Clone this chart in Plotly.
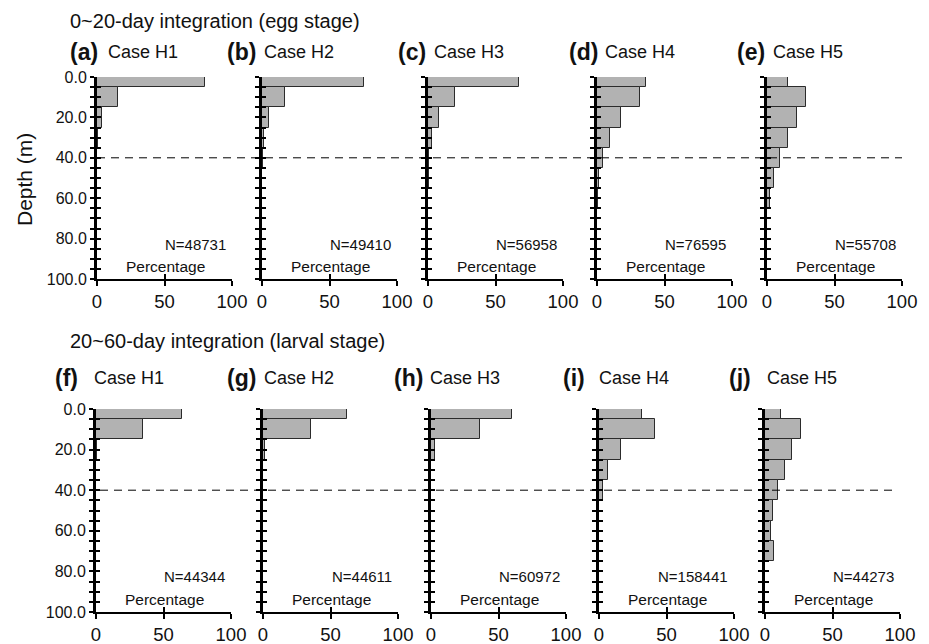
import plotly.graph_objects as go

# ---- data -------------------------------------------------------------
# depth bins (m), centred every 10 m; the first bin is cut at the surface
DEPTH_BINS = [0, 10, 20, 30, 40, 50, 60, 70, 80, 90]

CASES = ["Case H1", "Case H2", "Case H3", "Case H4", "Case H5"]
EGG_LETTERS = ["(a)", "(b)", "(c)", "(d)", "(e)"]
LARVA_LETTERS = ["(f)", "(g)", "(h)", "(i)", "(j)"]

EGG_N = ["N=48731", "N=49410", "N=56958", "N=76595", "N=55708"]
LARVA_N = ["N=44344", "N=44611", "N=60972", "N=158441", "N=44273"]

# percentage of particles per depth bin, 0-20 day integration (egg stage)
EGG_H1 = [79.7, 15.4, 3.9, 0.6, 0.2, 0.1, 0.0, 0.0, 0.0, 0.0]
EGG_H2 = [75.3, 16.8, 5.2, 1.8, 0.6, 0.2, 0.1, 0.0, 0.0, 0.0]
EGG_H3 = [67.2, 20.0, 8.0, 3.2, 1.0, 0.4, 0.2, 0.0, 0.0, 0.0]
EGG_H4 = [36.5, 31.8, 17.8, 9.3, 4.6, 1.5, 0.5, 0.0, 0.0, 0.0]
EGG_H5 = [15.3, 29.2, 22.5, 15.8, 9.8, 5.3, 2.0, 0.3, 0.0, 0.0]

# percentage of particles per depth bin, 20-60 day integration (larval stage)
LARVA_H1 = [63.8, 35.0, 1.0, 0.2, 0.0, 0.0, 0.0, 0.0, 0.0, 0.0]
LARVA_H2 = [62.5, 35.5, 1.8, 0.2, 0.0, 0.0, 0.0, 0.0, 0.0, 0.0]
LARVA_H3 = [60.0, 36.3, 3.2, 0.3, 0.1, 0.0, 0.0, 0.0, 0.0, 0.0]
LARVA_H4 = [31.6, 41.7, 16.5, 6.9, 3.0, 0.3, 0.0, 0.0, 0.0, 0.0]
LARVA_H5 = [11.9, 26.4, 19.7, 14.8, 9.9, 5.7, 4.4, 6.9, 0.0, 0.0]

EGG = [EGG_H1, EGG_H2, EGG_H3, EGG_H4, EGG_H5]
LARVA = [LARVA_H1, LARVA_H2, LARVA_H3, LARVA_H4, LARVA_H5]

X_TICKS = [0, 50, 100]
Y_TICKS = [0, 20, 40, 60, 80, 100]
Y_TICK_TEXT = ["0.0", "20.0", "40.0", "60.0", "80.0", "100.0"]
REF_DEPTH = 40

ROW_TITLES = ["0~20-day integration (egg stage)",
              "20~60-day integration (larval stage)"]

# ---- layout geometry (pixels in a 929 x 644 page) ----------------------
W, H = 929, 644
FONT = "Liberation Sans, Arial, Helvetica, sans-serif"
INK = "#111111"

ROWS = [
    dict(values=EGG, letters=EGG_LETTERS, ns=EGG_N, title=ROW_TITLES[0],
         ypx=(77, 279), title_y=21, label_y=52,
         axes_px=[(97, 232), (262, 397), (428, 563), (597, 732), (767, 902)],
         letter_right=[100, 258, 428, 600, 767],
         case_left=[106, 262, 432, 603, 771],
         dash_px=(97, 902)),
    dict(values=LARVA, letters=LARVA_LETTERS, ns=LARVA_N, title=ROW_TITLES[1],
         ypx=(409, 612), title_y=341, label_y=378,
         axes_px=[(96, 231), (263, 398), (431, 566), (599, 734), (765, 900)],
         letter_right=[80, 258, 425, 587, 753],
         case_left=[92, 262, 428, 597, 765],
         dash_px=(100, 897)),
]


def px_x(v):
    return v / W


def px_y(v):
    return 1 - v / H


BAR_FILL = "#b2b2b2"
BAR_EDGE = "#2b2b2b"

fig = go.Figure()
layout = dict(
    width=W, height=H,
    margin=dict(l=0, r=0, t=0, b=0, pad=0, autoexpand=False),
    paper_bgcolor="white", plot_bgcolor="white",
    showlegend=False, bargap=0,
    font=dict(family=FONT, color=INK),
)
annotations = []
shapes = []

n_panels = 10
idx = 0
for r, row in enumerate(ROWS):
    ydom = [px_y(row["ypx"][1]), px_y(row["ypx"][0])]
    for c in range(5):
        idx += 1
        ov = str(idx + n_panels)  # overlay axes carry the inner half of each tick
        xs = "" if idx == 1 else str(idx)
        x0px, x1px = row["axes_px"][c]
        xdom = [px_x(x0px), px_x(x1px)]

        fig.add_trace(go.Bar(
            x=row["values"][c], y=DEPTH_BINS, orientation="h", width=10,
            marker=dict(color=BAR_FILL, line=dict(color=BAR_EDGE, width=1)),
            xaxis="x" + xs, yaxis="y" + xs, hoverinfo="x+y",
        ))
        # empty trace so the overlay subplot gets drawn
        fig.add_trace(go.Scatter(
            x=[None], y=[None], mode="markers", xaxis="x" + ov, yaxis="y" + ov,
            hoverinfo="skip", showlegend=False,
        ))

        first = c == 0
        layout["xaxis" + xs] = dict(
            domain=xdom, range=[0, 100], anchor="y" + xs,
            showgrid=False, zeroline=False,
            showline=True, linecolor="black", linewidth=2,
            ticks="outside", ticklen=5, tickwidth=1.5, tickcolor="black",
            tickvals=X_TICKS, ticktext=[str(v) for v in X_TICKS],
            tickfont=dict(size=18.5, family=FONT, color=INK),
            ticklabelstandoff=0,
        )
        layout["yaxis" + xs] = dict(
            domain=ydom, range=[100, 0], anchor="x" + xs,
            showgrid=False, zeroline=False,
            showline=True, linecolor="black", linewidth=3,
            ticks="outside", ticklen=4, tickwidth=2, tickcolor="black",
            tickvals=Y_TICKS, ticktext=Y_TICK_TEXT,
            showticklabels=first,
            tickfont=dict(size=16, family=FONT, color=INK),
            minor=dict(dtick=5, ticks="outside", ticklen=4, tickwidth=2,
                       tickcolor="black", showgrid=False),
        )
        layout["xaxis" + ov] = dict(
            domain=xdom, range=[0, 100], anchor="y" + ov, overlaying="x" + xs,
            side="bottom", showgrid=False, zeroline=False, showline=False,
            ticks="inside", ticklen=5, tickwidth=1.5, tickcolor="black",
            tickvals=X_TICKS, showticklabels=False,
        )
        layout["yaxis" + ov] = dict(
            domain=ydom, range=[100, 0], anchor="x" + ov, overlaying="y" + xs,
            side="left", showgrid=False, zeroline=False, showline=False,
            ticks="inside", ticklen=4, tickwidth=2, tickcolor="black",
            tickvals=Y_TICKS, showticklabels=False,
            minor=dict(dtick=5, ticks="inside", ticklen=4, tickwidth=2,
                       tickcolor="black", showgrid=False),
        )

        # panel letter and case name
        annotations.append(dict(
            text="<b>" + row["letters"][c] + "</b>", xref="paper", yref="paper",
            x=px_x(row["letter_right"][c]), y=px_y(row["label_y"]),
            xanchor="right", yanchor="middle", showarrow=False,
            font=dict(size=23, family=FONT, color=INK),
        ))
        annotations.append(dict(
            text=CASES[c], xref="paper", yref="paper",
            x=px_x(row["case_left"][c]), y=px_y(row["label_y"]),
            xanchor="left", yanchor="middle", showarrow=False,
            font=dict(size=18, family=FONT, color=INK),
        ))
        # particle count and axis title inside the panel
        annotations.append(dict(
            text=row["ns"][c], xref="x" + xs, yref="y" + xs,
            x=97, y=82.7, xanchor="right", yanchor="middle", showarrow=False,
            font=dict(size=15, family=FONT, color=INK),
        ))
        annotations.append(dict(
            text="Percentage", xref="x" + xs, yref="y" + xs,
            x=51, y=93.8, xanchor="center", yanchor="middle", showarrow=False,
            font=dict(size=15.5, family=FONT, color=INK),
        ))

        if first:
            # reference depth line across the whole row
            shapes.append(dict(
                type="line", xref="paper", yref="y" + xs,
                x0=px_x(row["dash_px"][0]), x1=px_x(row["dash_px"][1]),
                y0=REF_DEPTH, y1=REF_DEPTH,
                line=dict(color="black", width=1, dash="8px,6px"),
                layer="above",
            ))

    annotations.append(dict(
        text=row["title"], xref="paper", yref="paper",
        x=px_x(68), y=px_y(row["title_y"]), xanchor="left", yanchor="middle",
        showarrow=False, font=dict(size=20, family=FONT, color=INK),
    ))

annotations.append(dict(
    text="Depth (m)", xref="paper", yref="paper",
    x=px_x(25), y=px_y(180), xanchor="center", yanchor="middle",
    textangle=-90, showarrow=False,
    font=dict(size=21, family=FONT, color=INK),
))

layout["annotations"] = annotations
layout["shapes"] = shapes
fig.update_layout(**layout)

fig.write_html("out.html")
